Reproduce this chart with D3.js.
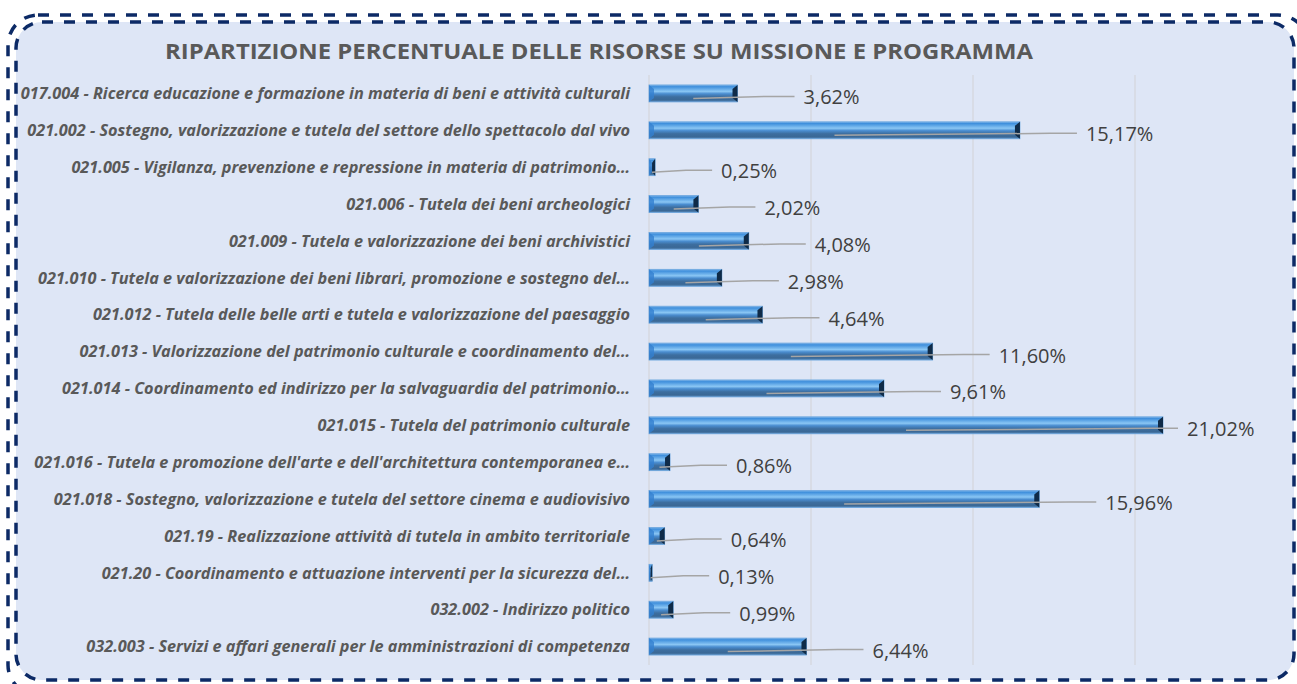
<!DOCTYPE html>
<html>
<head>
<meta charset="utf-8">
<script src="https://cdn.jsdelivr.net/npm/d3@7"></script>
<style>
    body { margin: 0; background: #ffffff; }
    svg { display: block; }
</style>
</head>
<body>
<svg></svg>
<script>
// chart data
const categories = [
    '017.004 - Ricerca educazione e formazione in materia di beni e attività culturali',
    '021.002 - Sostegno, valorizzazione e tutela del settore dello spettacolo dal vivo',
    '021.005 - Vigilanza, prevenzione e repressione in materia di patrimonio…',
    '021.006 - Tutela dei beni archeologici',
    '021.009 - Tutela e valorizzazione dei beni archivistici',
    '021.010 - Tutela e valorizzazione dei beni librari, promozione e sostegno del…',
    '021.012 - Tutela delle belle arti e tutela e valorizzazione del paesaggio',
    '021.013 - Valorizzazione del patrimonio culturale e coordinamento del…',
    '021.014 - Coordinamento ed indirizzo per la salvaguardia del patrimonio…',
    '021.015 - Tutela del patrimonio culturale',
    "021.016 - Tutela e promozione dell'arte e dell'architettura contemporanea e…",
    '021.018 - Sostegno, valorizzazione e tutela del settore cinema e audiovisivo',
    '021.19 - Realizzazione attività di tutela in ambito territoriale',
    '021.20 - Coordinamento e attuazione interventi per la sicurezza del…',
    '032.002 - Indirizzo politico',
    '032.003 - Servizi e affari generali per le amministrazioni di competenza'
];
const shares = [3.62, 15.17, 0.25, 2.02, 4.08, 2.98, 4.64, 11.60, 9.61, 21.02, 0.86, 15.96, 0.64, 0.13, 0.99, 6.44];
const gridTicks = [0, 6.625, 13.25, 19.875];
const axisMax = 26.5;
const title = 'RIPARTIZIONE PERCENTUALE DELLE RISORSE SU MISSIONE E PROGRAMMA';

const width = 1297;
const height = 684;

const svg = d3.select('svg')
    .attr('width', width)
    .attr('height', height);

const defs = svg.append('defs');

const grad = defs.append('linearGradient')
    .attr('id', 'barFill')
    .attr('x1', 0).attr('y1', 0)
    .attr('x2', 0).attr('y2', 1);
[
    [0, '#7fb6ea'], [0.1, '#3f8fdc'], [0.38, '#8ac6f4'], [0.52, '#4a8dd0'],
    [0.7, '#3d6e9f'], [0.88, '#3a6896'], [1, '#5b8cbc']
].forEach(([o, c]) => grad.append('stop').attr('offset', o).attr('stop-color', c));

// frame: light blue panel, doubled dashed border
const frame = svg.append('g');
frame.append('rect')
    .attr('x', 16).attr('y', 22)
    .attr('width', 1278).attr('height', 658)
    .attr('rx', 26)
    .style('fill', '#dee6f6');
frame.append('rect')
    .attr('x', 8).attr('y', 15)
    .attr('width', 1300).attr('height', 680)
    .attr('rx', 30)
    .style('fill', 'none')
    .style('stroke', '#0c2a66')
    .style('stroke-width', 3.5)
    .style('stroke-dasharray', '11 11');
frame.append('rect')
    .attr('x', 16).attr('y', 22)
    .attr('width', 1278).attr('height', 658)
    .attr('rx', 26)
    .style('fill', 'none')
    .style('stroke', '#0c2a66')
    .style('stroke-width', 3.5)
    .style('stroke-dasharray', '11 11');

// title
svg.append('text')
    .attr('x', 599)
    .attr('y', 59)
    .attr('text-anchor', 'middle')
    .attr('textLength', 868)
    .attr('lengthAdjust', 'spacingAndGlyphs')
    .style('font-family', '"Open Sans", sans-serif')
    .style('font-weight', 'bold')
    .style('font-size', '22px')
    .style('fill', '#595959')
    .text(title);

const x = d3.scaleLinear()
    .domain([0, axisMax])
    .range([649, 1297]);

const y = d3.scaleBand()
    .domain(categories)
    .range([75, 665])
    .paddingInner(0.54)
    .paddingOuter(0.27);

// gridlines
svg.append('g')
    .selectAll('line')
    .data(gridTicks)
    .join('line')
    .attr('x1', d => x(d)).attr('x2', d => x(d))
    .attr('y1', 75).attr('y2', 665)
    .style('stroke', '#d6d9e0')
    .style('stroke-width', 1.5);

// category labels, sized so the longest one spans the left margin
const catLabels = svg.append('g')
    .style('font-family', '"Open Sans", sans-serif')
    .style('font-weight', 'bold')
    .style('font-style', 'italic')
    .style('font-size', '13px')
    .style('fill', '#595959');

catLabels.selectAll('text')
    .data(categories)
    .join('text')
    .attr('x', 630)
    .attr('y', d => y(d) + y.bandwidth() / 2)
    .attr('dy', '0.35em')
    .attr('text-anchor', 'end')
    .text(d => d);

const widest = d3.max(catLabels.selectAll('text').nodes(), n => n.getComputedTextLength());
catLabels.style('font-size', `${13 * 610 / widest}px`);

const rows = categories.map((c, i) => ({ cat: c, value: shares[i] }));

// bars
const bar = svg.append('g')
    .selectAll('g')
    .data(rows)
    .join('g');

bar.append('rect')
    .attr('x', x(0))
    .attr('y', d => y(d.cat))
    .attr('width', d => x(d.value) - x(0))
    .attr('height', y.bandwidth())
    .style('fill', 'url(#barFill)')
    .style('stroke', '#6aa5de')
    .style('stroke-width', 0.8);

// bevel faces at both ends
const bevel = (d, side) => {
    const x0 = x(0);
    const x1 = x(d.value);
    const bev = Math.min(5, (x1 - x0) / 2);
    const y0 = y(d.cat);
    const y1 = y0 + y.bandwidth();
    if (side === 'left') {
        return [[x0, y0], [x0 + bev, y0 + 4], [x0 + bev, y1 - 4], [x0, y1]].join(' ');
    }
    return [[x1 - bev, y0 + 4], [x1, y0], [x1, y1], [x1 - bev, y1 - 4]].join(' ');
};

bar.append('polygon')
    .attr('points', d => bevel(d, 'left'))
    .style('fill', '#3380cf')
    .style('opacity', 0.8);

bar.append('polygon')
    .attr('points', d => bevel(d, 'right'))
    .style('fill', '#0f2b48');

// value labels with leader lines
const labelX = d => Math.min(x(d.value) + 66, 1187);
const midY = d => y(d.cat) + y.bandwidth() / 2;

bar.append('polyline')
    .attr('points', d => {
        const sx = (x(0) + x(d.value)) / 2;
        const ex = labelX(d) - 9;
        return [[sx, midY(d) + 5], [ex - 26, midY(d) + 3], [ex, midY(d) + 3]].join(' ');
    })
    .style('fill', 'none')
    .style('stroke', '#a5a5a5')
    .style('stroke-width', 1.5);

bar.append('text')
    .attr('x', labelX)
    .attr('y', d => midY(d) + 4)
    .attr('dy', '0.35em')
    .style('font-family', '"Open Sans", sans-serif')
    .style('font-size', '20px')
    .style('fill', '#404040')
    .text(d => d3.format('.2f')(d.value).replace('.', ',') + '%');
</script>
</body>
</html>
